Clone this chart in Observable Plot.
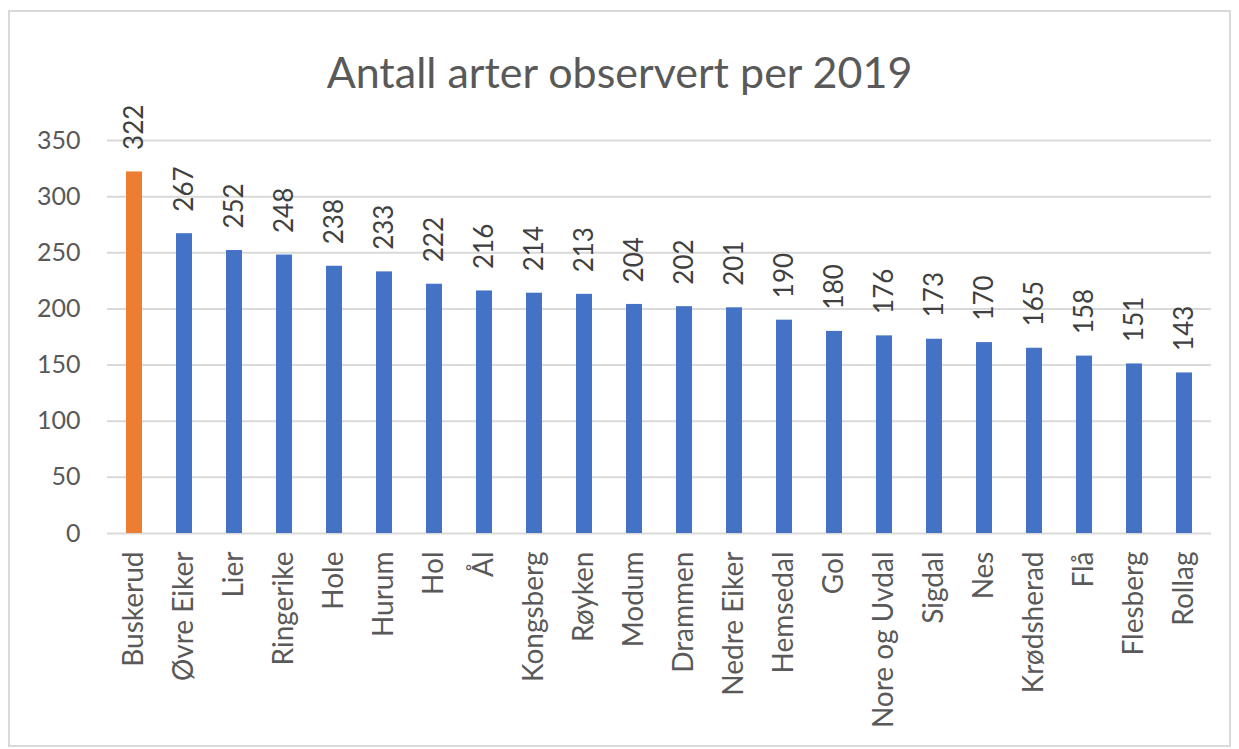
<!DOCTYPE html>
<html><head><meta charset="utf-8">
<script src="https://cdn.jsdelivr.net/npm/d3@7"></script>
<script src="https://cdn.jsdelivr.net/npm/@observablehq/plot@0.6"></script>
<style>
body{margin:0;background:#fff;font-family:Lato,sans-serif;width:1239px;height:749px;overflow:hidden;}
#frame{position:absolute;left:8px;top:10px;width:1223px;height:737px;border:2px solid #d9d9d9;box-sizing:border-box;}
#title{position:absolute;left:0;top:47px;width:1239px;text-align:center;font-size:43px;color:#595959;line-height:50px;}
#chart{position:absolute;left:0;top:90px;}
</style></head>
<body>
<div id="frame"></div>
<div id="title">Antall arter observert per 2019</div>
<div id="chart"></div>
<script>
const categories = ["Buskerud","Øvre Eiker","Lier","Ringerike","Hole","Hurum","Hol","Ål","Kongsberg","Røyken","Modum","Drammen","Nedre Eiker","Hemsedal","Gol","Nore og Uvdal","Sigdal","Nes","Krødsherad","Flå","Flesberg","Rollag"];
const values = [322,267,252,248,238,233,222,216,214,213,204,202,201,190,180,176,173,170,165,158,151,143];
const highlighted = ["Buskerud"];
const yTicks = [0,50,100,150,200,250,300,350];
const colorMain = "#4472C4", colorHighlight = "#ED7D31";

const data = categories.map((c, i) => ({category: c, value: values[i]}));

const chart = Plot.plot({
  width: 1239,
  height: 650,
  marginTop: 50,
  marginBottom: 207,
  marginLeft: 107,
  marginRight: 28,
  style: {fontFamily: "Lato, sans-serif", background: "transparent"},
  x: {domain: categories, paddingInner: 0.68, paddingOuter: 0.34},
  y: {domain: [0, 350]},
  marks: [
    Plot.gridY(yTicks, {stroke: "#d9d9d9", strokeOpacity: 1, strokeWidth: 2}),
    Plot.barY(data, {x: "category", y: "value", fill: d => highlighted.includes(d.category) ? colorHighlight : colorMain}),
    Plot.axisY(yTicks, {tickSize: 0, tickPadding: 27, fontSize: 25, color: "#595959", label: null}),
    Plot.axisX({tickRotate: -90, tickSize: 0, tickPadding: 18, fontSize: 28, color: "#595959", label: null}),
    Plot.text(data, {x: "category", y: "value", text: d => String(d.value), rotate: -90, textAnchor: "start", dy: -22, fontSize: 26, fill: "#404040"})
  ]
});
document.getElementById("chart").appendChild(chart);
</script>
</body></html>
